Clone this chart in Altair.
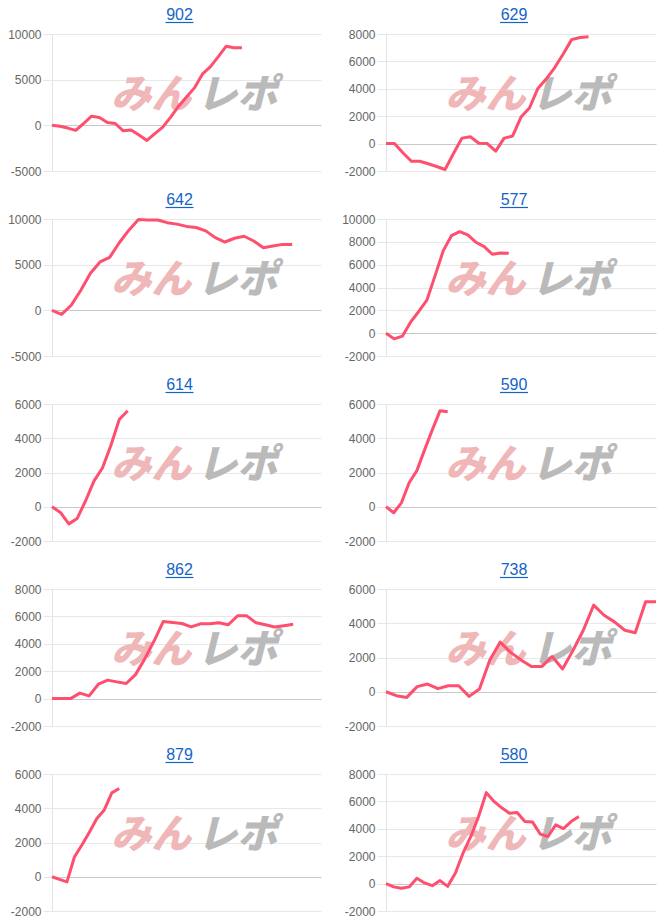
import altair as alt
import pandas as pd

# ---- data ----
v902 = [0, -100, -300, -550, 200, 1000, 850, 300, 200, -600, -500, -1050, -1650,
        -900, -200, 900, 2100, 3100, 4100, 5600, 6400, 7500, 8650, 8500, 8500]
v629 = [0, 0, -670, -1290, -1290, -1470, -1670, -1890, -720, 400, 500, 30, 0,
        -550, 400, 550, 1940, 2600, 4030, 4730, 5550, 6540, 7590, 7740, 7800]
v642 = [0, -440, 560, 2200, 4070, 5300, 5800, 7400, 8780, 9950, 9900, 9890, 9600,
        9440, 9190, 9070, 8700, 7960, 7480, 7890, 8110, 7590, 6850, 7040, 7220, 7220]
v577 = [0, -500, -260, 960, 1900, 2900, 5040, 7230, 8540, 8890, 8600, 7960, 7580,
        6910, 7030, 7000]
v614 = [0, -330, -1000, -680, 350, 1510, 2260, 3580, 5090, 5610]
v590 = [0, -350, 230, 1400, 2110, 3320, 4490, 5600, 5550]
v862 = [0, 0, 0, 400, 200, 1050, 1350, 1220, 1100, 1750, 2900, 4200, 5630, 5550,
        5480, 5230, 5460, 5460, 5530, 5390, 6040, 6040, 5530, 5390, 5230, 5320, 5420]
v738 = [0, -230, -330, 300, 450, 180, 350, 350, -270, 160, 1860, 2900, 2300, 1860,
        1470, 1470, 2060, 1330, 2410, 3590, 5060, 4470, 4080, 3590, 3450, 5250, 5250]
v879 = [0, -150, -300, 1150, 1850, 2600, 3400, 3900, 4900, 5150]
v580 = [0, -240, -340, -240, 390, 50, -150, 220, -200, 780, 2250, 3440, 4900, 6640,
        6000, 5530, 5140, 5190, 4530, 4490, 3610, 3440, 4290, 4020, 4530, 4900]

titles_left = ["902", "642", "614", "862", "879"]
titles_right = ["629", "577", "590", "738", "580"]
series = {"902": v902, "629": v629, "642": v642, "577": v577, "614": v614,
          "590": v590, "862": v862, "738": v738, "879": v879, "580": v580}
# last x slot of each chart's category axis
x_last = {"902": 34, "629": 32, "642": 28, "577": 33, "614": 32,
          "590": 35, "862": 29, "738": 26, "879": 36, "580": 35}
# y axis range and tick step
y_min = {"902": -5000, "629": -2000, "642": -5000, "577": -2000, "614": -2000,
         "590": -2000, "862": -2000, "738": -2000, "879": -2000, "580": -2000}
y_max = {"902": 10000, "629": 8000, "642": 10000, "577": 10000, "614": 6000,
         "590": 6000, "862": 8000, "738": 6000, "879": 6000, "580": 8000}
y_step = {"902": 5000, "629": 2000, "642": 5000, "577": 2000, "614": 2000,
          "590": 2000, "862": 2000, "738": 2000, "879": 2000, "580": 2000}

LINE = "#fe4f6e"
BLUE = "#1464c8"
FONT = "Liberation Sans"
W_L, W_R, H = 269, 270, 137


def panel(name, w):
    vals = series[name]
    df = pd.DataFrame({"i": list(range(len(vals))), "v": vals})
    tdf = pd.DataFrame({"t": [name]})
    ticks = list(range(y_min[name], y_max[name] + 1, y_step[name]))
    x = alt.X("i:Q", scale=alt.Scale(domain=[0, x_last[name]], nice=False, zero=False),
              axis=None)
    y = alt.Y("v:Q", scale=alt.Scale(domain=[y_min[name], y_max[name]], nice=False, zero=False),
              axis=alt.Axis(values=ticks, title=None, labelExpr="'' + datum.value",
                            labelColor="#666666", labelFont=FONT, labelFontSize=12,
                            labelPadding=2, tickSize=9, tickColor="#e6e6e6",
                            domainColor="#e3e3e3",
                            gridColor={"condition": {"test": "datum.value === 0",
                                                     "value": "#c9c9c9"},
                                       "value": "#e8e8e8"}))
    line = alt.Chart(df).mark_line(color=LINE, strokeWidth=3, strokeJoin="round").encode(x=x, y=y)
    wm1 = alt.Chart(tdf).mark_text(text="みん", font="Noto Sans CJK JP", fontSize=40,
                                   fontWeight=900, fontStyle="italic", color="#efb7b7",
                                   align="left", baseline="middle").encode(
        x=alt.value(w * 0.22), y=alt.value(H * 0.45))
    wm2 = alt.Chart(tdf).mark_text(text="レポ", font="Noto Sans CJK JP", fontSize=40,
                                   fontWeight=900, fontStyle="italic", color="#bababa",
                                   align="left", baseline="middle").encode(
        x=alt.value(w * 0.22 + 86), y=alt.value(H * 0.45))
    cx = w / 2 - 7
    title = alt.Chart(tdf).mark_text(font=FONT, fontSize=16, color=BLUE, align="center",
                                     baseline="alphabetic").encode(
        text="t:N", x=alt.value(cx), y=alt.value(-14))
    under = alt.Chart(tdf).mark_rule(color=BLUE, strokeWidth=1.2).encode(
        x=alt.value(cx - 14), x2=alt.value(cx + 14), y=alt.value(-11.5))
    return alt.layer(wm1, wm2, line, title, under).properties(width=w, height=H)


left = alt.vconcat(*[panel(n, W_L) for n in titles_left], spacing=15)
right = alt.vconcat(*[panel(n, W_R) for n in titles_right], spacing=15)

chart = alt.hconcat(left, right, spacing=20).properties(
    padding={"left": 7, "top": 7, "right": 5, "bottom": 2},
    background="white",
).configure_view(stroke=None).resolve_scale(x="independent", y="independent")

chart.save("out.html", embed_options={"renderer": "svg", "actions": False})
